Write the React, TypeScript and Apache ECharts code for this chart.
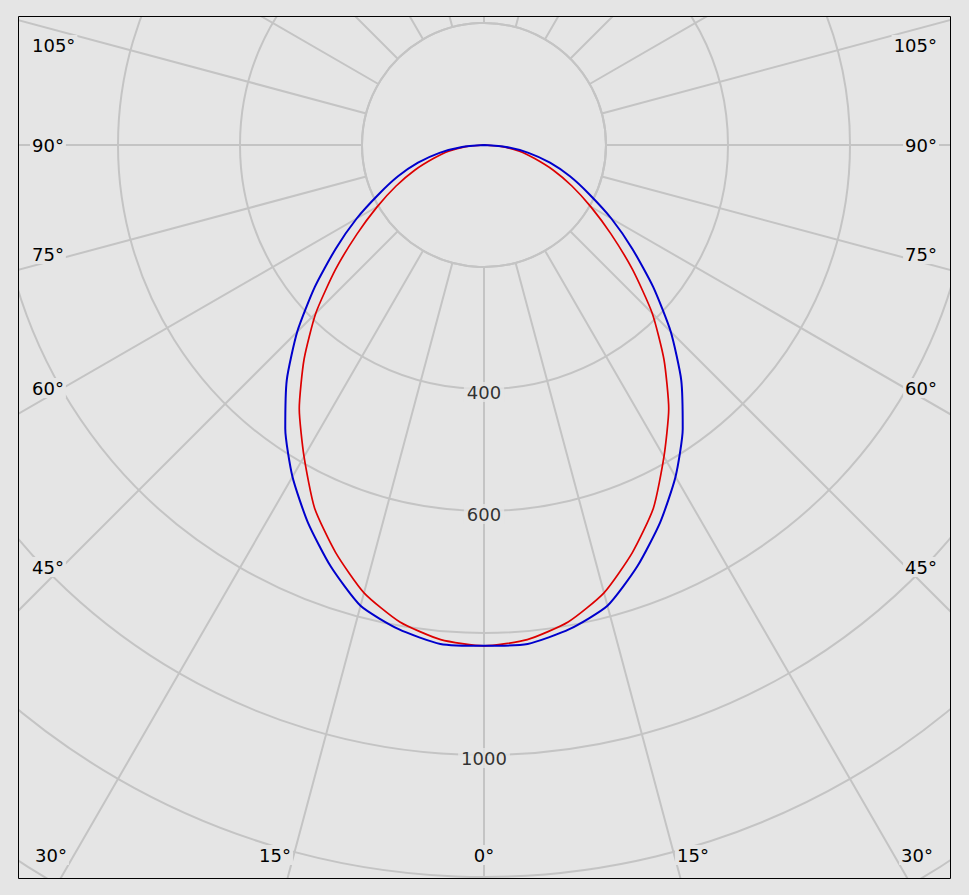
import React, { useEffect, useRef } from "react";
import * as echarts from "echarts";

// Photometric data: gamma angle (deg from nadir) and luminous intensity (cd)
const gammaAngles = [0, 5, 10, 15, 20, 25, 30, 35, 40, 45, 50, 55, 60, 65, 70, 75, 80, 85, 90];
const bluePlane = [821, 821, 806, 782, 735, 683, 628, 568, 503, 433, 362, 297, 241, 190, 150, 112, 74, 36, 0];
const redPlane = [821, 814, 794, 760, 711, 657, 590, 528, 459, 390, 318, 254, 202, 159, 121, 86, 59, 30, 0];

// Axis tick values
const radiusMin = 200;
const radiusMax = 1600;
const radiusStep = 200;
const angleStep = 15;
const radiusLabels = [400, 600, 1000];
const sideAngleLabels = [105, 90, 75, 60, 45];
const bottomAngleLabels = [30, 15, 0, 15, 30];

// Layout (pixels)
const W = 969;
const H = 895;
const CX = 484;
const CY = 145;
const PX_PER_CD = 0.61;
const FRAME = { x0: 18, y0: 16, x1: 951, y1: 879 };
const sideLabelY = [45, 145, 254, 388, 567];
const bottomLabelX = [51, 275, 484, 693, 917];
const bottomLabelY = 855;
const BG = "#e5e5e5";
const GRID = "#c4c4c4";
const FONT_FAMILY = '"DejaVu Sans", Verdana, sans-serif';
const FONT = "18px " + FONT_FAMILY;

function buildCurve(values: number[]) {
  const pts: [number, number][] = [];
  for (let i = gammaAngles.length - 1; i > 0; i--) pts.push([values[i], -gammaAngles[i]]);
  for (let i = 0; i < gammaAngles.length; i++) pts.push([values[i], gammaAngles[i]]);
  return pts;
}

export default function App() {
  const ref = useRef<HTMLDivElement>(null);
  useEffect(() => {
    document.body.style.margin = "0";
    document.body.style.background = BG;
    if (!ref.current) return;
    const chart = echarts.init(ref.current, undefined, { renderer: "svg" });
    const outerR = radiusMax * PX_PER_CD;
    const innerR = radiusMin * PX_PER_CD;

    const textEl = (text: string, x: number, y: number, align: string) => ({
      type: "text",
      x,
      y,
      z: 102,
      silent: true,
      style: {
        text,
        fill: "#000",
        font: FONT,
        align,
        verticalAlign: "middle",
        textAlign: align,
        textVerticalAlign: "middle",
        backgroundColor: BG,
        padding: [1, 2],
      },
    });

    const graphics: any[] = [
      { type: "rect", z: 100, silent: true, shape: { x: 0, y: 0, width: W, height: FRAME.y0 }, style: { fill: BG } },
      { type: "rect", z: 100, silent: true, shape: { x: 0, y: FRAME.y1, width: W, height: H - FRAME.y1 }, style: { fill: BG } },
      { type: "rect", z: 100, silent: true, shape: { x: 0, y: 0, width: FRAME.x0, height: H }, style: { fill: BG } },
      { type: "rect", z: 100, silent: true, shape: { x: FRAME.x1, y: 0, width: W - FRAME.x1, height: H }, style: { fill: BG } },
      {
        type: "rect",
        z: 101,
        silent: true,
        shape: { x: FRAME.x0 + 0.5, y: FRAME.y0 + 0.5, width: FRAME.x1 - FRAME.x0 - 1, height: FRAME.y1 - FRAME.y0 - 1 },
        style: { fill: "none", stroke: "#000", lineWidth: 1 },
      },
    ];
    sideAngleLabels.forEach((a, i) => {
      graphics.push(textEl(a + "°", FRAME.x0 + 12, sideLabelY[i], "left"));
      graphics.push(textEl(a + "°", FRAME.x1 - 12, sideLabelY[i], "right"));
    });
    bottomAngleLabels.forEach((a, i) => {
      graphics.push(textEl(a + "°", bottomLabelX[i], bottomLabelY, "center"));
    });

    const angleAxisBase = {
      type: "value",
      min: -180,
      max: 180,
      interval: angleStep,
      startAngle: 90,
      clockwise: false,
    };

    chart.setOption({
      animation: false,
      backgroundColor: BG,
      polar: [
        { center: [CX, CY], radius: [innerR, outerR] },
        { center: [CX, CY], radius: [0, outerR] },
      ],
      angleAxis: [
        {
          ...angleAxisBase,
          polarIndex: 0,
          axisLine: { show: true, lineStyle: { color: GRID, width: 2 } },
          axisTick: { show: false },
          axisLabel: { show: false },
          splitLine: { show: true, lineStyle: { color: GRID, width: 2 } },
        },
        {
          ...angleAxisBase,
          polarIndex: 1,
          axisLine: { show: false },
          axisTick: { show: false },
          axisLabel: { show: false },
          splitLine: { show: false },
        },
      ],
      radiusAxis: [
        {
          type: "value",
          polarIndex: 0,
          min: radiusMin,
          max: radiusMax,
          interval: radiusStep,
          axisLine: { show: false },
          axisTick: { show: false },
          axisLabel: { show: false },
          splitLine: { show: true, lineStyle: { color: GRID, width: 2 } },
        },
        {
          type: "value",
          polarIndex: 1,
          min: 0,
          max: radiusMax,
          interval: radiusStep,
          axisLine: { show: false },
          axisTick: { show: false },
          axisLabel: { show: false },
          splitLine: { show: false },
        },
      ],
      series: [
        {
          type: "scatter",
          coordinateSystem: "polar",
          polarIndex: 1,
          symbolSize: 1,
          itemStyle: { color: "rgba(0,0,0,0)" },
          z: 5,
          data: radiusLabels.map((v) => [v, 0]),
          label: {
            show: true,
            position: "inside",
            offset: [0, 3],
            formatter: (p: any) => String(p.value[0]),
            color: "#000",
            fontSize: 18,
            fontFamily: FONT_FAMILY,
            backgroundColor: BG,
            padding: [1, 3],
          },
        },
        {
          type: "line",
          name: "C90-C270",
          coordinateSystem: "polar",
          polarIndex: 1,
          showSymbol: false,
          symbol: "none",
          smooth: 0.2,
          lineStyle: { color: "#dd0000", width: 1.7 },
          data: buildCurve(redPlane),
          z: 6,
        },
        {
          type: "line",
          name: "C0-C180",
          coordinateSystem: "polar",
          polarIndex: 1,
          showSymbol: false,
          symbol: "none",
          smooth: 0.2,
          lineStyle: { color: "#0000cc", width: 2 },
          data: buildCurve(bluePlane),
          z: 7,
        },
      ],
      graphic: graphics,
    });
    return () => chart.dispose();
  }, []);
  return <div ref={ref} style={{ width: W, height: H }} />;
}
